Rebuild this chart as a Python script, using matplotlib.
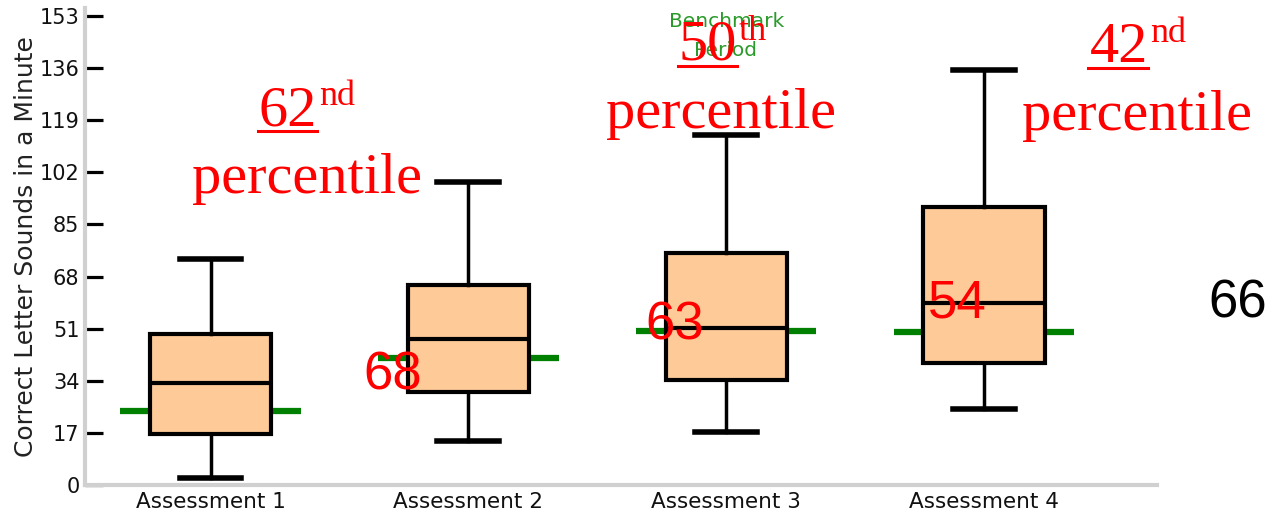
import matplotlib
matplotlib.use("Agg")
import matplotlib.pyplot as plt
from matplotlib.lines import Line2D
import numpy as np

# values
labels = ["Assessment 1", "Assessment 2", "Assessment 3", "Assessment 4"]
whislo = [2.3, 14.4, 17.3, 24.8]
q1 = [16.6, 30.5, 34.3, 39.8]
med = [33.4, 47.6, 51.3, 59.4]
q3 = [49.2, 65.3, 75.7, 90.7]
whishi = [73.6, 98.9, 114.2, 135.4]
benchmark = [24.3, 41.4, 50.2, 49.9]
yticks = [0, 17, 34, 51, 68, 85, 102, 119, 136, 153]

W, H = 1269, 514
fig = plt.figure(figsize=(W / 100, H / 100), dpi=100)
ax = fig.add_axes([85 / W, 1 - 485 / H, (1157 - 85) / W, (485 - 8) / H])

pos = np.arange(1, len(labels) + 1)
stats = []
for i in range(len(labels)):
    stats.append(dict(whislo=whislo[i], q1=q1[i], med=med[i], q3=q3[i],
                      whishi=whishi[i], label=labels[i]))

# benchmark lines sit behind the boxes
ax.hlines(benchmark, pos - 0.35, pos + 0.35, color="#008000", lw=4.5, zorder=1)

ax.bxp(stats, positions=pos, widths=0.47, capwidths=0.24, patch_artist=True,
       showfliers=False, manage_ticks=False,
       boxprops=dict(facecolor="#fdca98", edgecolor="black", linewidth=3),
       medianprops=dict(color="black", linewidth=3),
       whiskerprops=dict(color="black", linewidth=2.5),
       capprops=dict(color="black", linewidth=4))

ax.set_xlim(0.513, 4.671)
ax.set_ylim(0, 155.6)
ax.set_xticks(pos)
ax.set_xticklabels(labels, fontsize=15.5, family="DejaVu Sans", color="#111111")
ax.set_yticks(yticks)
ax.set_yticklabels([str(t) for t in yticks], fontsize=15, family="DejaVu Sans",
                   color="#111111")
ax.tick_params(axis="x", length=0, pad=5)
ax.tick_params(axis="y", direction="in", length=13, width=2.3, color="black", pad=4)

for s in ["top", "right"]:
    ax.spines[s].set_visible(False)
for s in ["left", "bottom"]:
    ax.spines[s].set_color("#d0d0d0")
    ax.spines[s].set_linewidth(3)

ax.set_ylabel("Correct Letter Sounds in a Minute", fontsize=18, family="DejaVu Sans",
              color="#222222")
ax.yaxis.set_label_coords(-0.0435, 0.5)


def px(x, y):
    return x / W, 1 - y / H


# green benchmark period label
fig.text(*px(727, 27), "Benchmark", color="#2a9a2a", fontsize=14.5,
         ha="center", va="baseline", family="DejaVu Sans")
fig.text(*px(725, 56), "Period", color="#2a9a2a", fontsize=14.5,
         ha="center", va="baseline", family="DejaVu Sans")

# red percentile notes
notes = [("62", "nd", 258, 317, 125, 307),
         ("50", "th", 678, 737, 60, 721),
         ("42", "nd", 1088, 1148, 62, 1137)]
for num, sup, x0, x1, base, cx in notes:
    fig.text(*px(x1, base), num, color="red", fontsize=42, family="Liberation Serif",
             ha="right", va="baseline", zorder=5)
    fig.text(*px(x1 + 2, base - 20), sup, color="red", fontsize=26,
             family="Liberation Serif", ha="left", va="baseline", zorder=5)
    fig.add_artist(Line2D([x0 / W, x1 / W], [1 - (base + 6) / H] * 2,
                          transform=fig.transFigure, color="red", lw=2.2, zorder=5))
    fig.text(*px(cx, base + 68), "percentile", color="red", fontsize=42,
             family="Liberation Serif", ha="center", va="baseline", zorder=5)

# overlaid numbers
for txt, x, y, c in [("68", 363, 390, "red"), ("63", 645, 340, "red"),
                     ("54", 928, 317, "red"), ("66", 1208, 317, "black")]:
    fig.text(*px(x, y), txt, color=c, fontsize=38, family="Liberation Sans",
             ha="left", va="baseline", zorder=5)

fig.savefig("out.png", dpi=100)
